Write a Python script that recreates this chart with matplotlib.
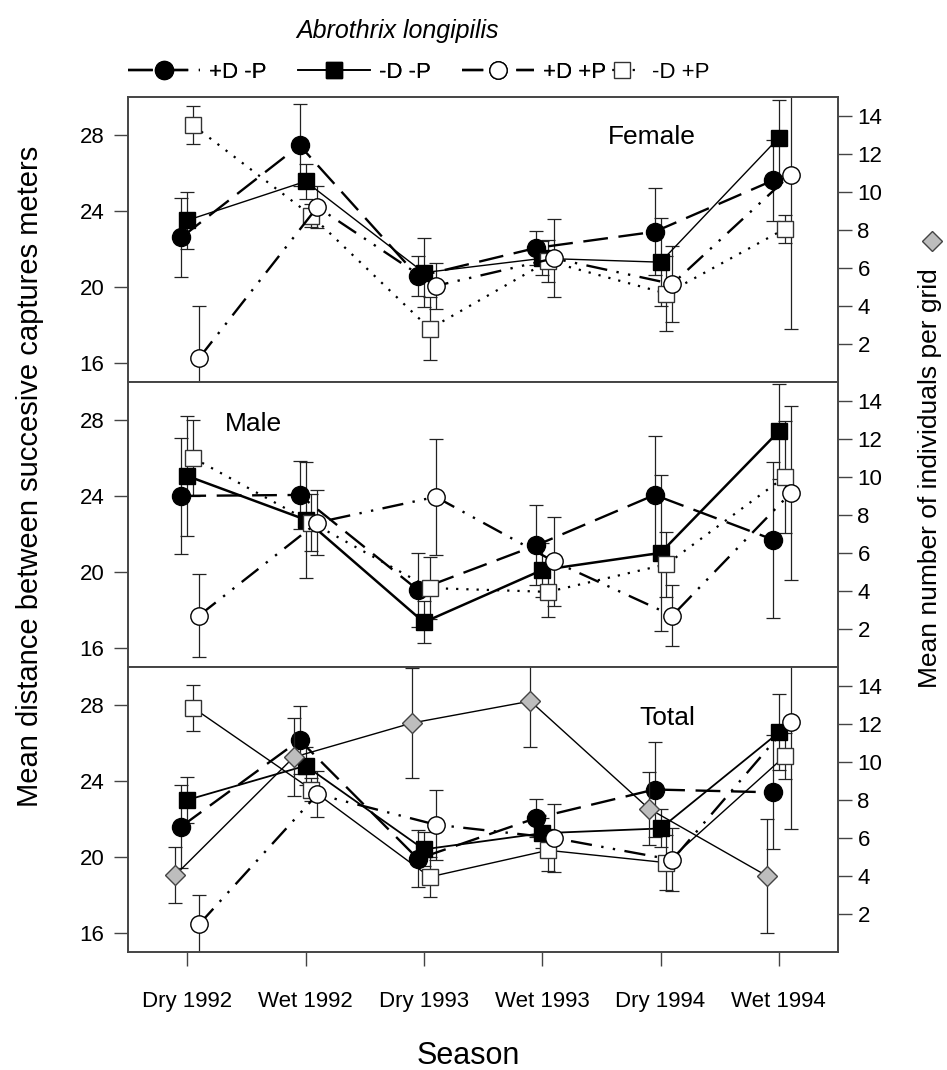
import numpy as np
import matplotlib
matplotlib.use("Agg")
import matplotlib.pyplot as plt
from matplotlib.lines import Line2D

plt.rcParams['font.family'] = ['Liberation Sans', 'DejaVu Sans']

# ============================================
# Data: mean distance (m) +- error, per treatment and season
seasons = ['Dry 1992', 'Wet 1992', 'Dry 1993', 'Wet 1993', 'Dry 1994', 'Wet 1994']
panel_names = ['Female', 'Male', 'Total']

# Female
f_pd_mp = [22.6, 27.45, 20.55, 22.05, 22.9, 25.6]
f_pd_mp_err = [2.1, 2.15, 1.05, 0.9, 2.3, 2.15]
f_md_mp = [23.5, 25.55, 20.75, 21.5, 21.3, 27.85]
f_md_mp_err = [1.5, 0.9, 1.8, 0.9, 2.3, 2.0]
f_pd_pp = [16.25, 24.2, 20.05, 21.5, 20.15, 25.9]
f_pd_pp_err = [2.75, 1.1, 1.2, 2.05, 2.0, 8.1]
f_md_pp = [28.5, 23.75, 17.8, 21.35, 19.65, 23.05]
f_md_pp_err = [1.0, 0.6, 1.65, 1.1, 1.95, 0.75]

# Male
m_pd_mp = [24.0, 24.05, 19.05, 21.4, 24.05, 21.7]
m_pd_mp_err = [3.05, 1.8, 1.95, 2.1, 3.1, 4.1]
m_md_mp = [25.05, 22.75, 17.35, 20.1, 21.0, 27.4]
m_md_mp_err = [3.15, 3.05, 1.1, 1.4, 4.1, 2.5]
m_pd_pp = [17.7, 22.6, 23.95, 20.55, 17.7, 24.15]
m_pd_pp_err = [2.2, 1.7, 3.05, 2.35, 1.6, 4.6]
m_md_pp = [26.0, 22.6, 19.15, 18.95, 20.4, 25.0]
m_md_pp_err = [2.0, 1.5, 1.65, 1.3, 1.7, 2.95]

# Total
t_pd_mp = [21.6, 26.15, 19.9, 22.05, 23.55, 23.4]
t_pd_mp_err = [2.2, 1.8, 1.5, 1.0, 2.5, 3.0]
t_md_mp = [23.0, 24.8, 20.4, 21.25, 21.5, 26.55]
t_md_mp_err = [1.2, 1.0, 0.9, 0.8, 1.0, 2.0]
t_pd_pp = [16.45, 23.3, 21.7, 21.0, 19.85, 27.1]
t_pd_pp_err = [1.55, 1.2, 1.85, 1.8, 1.65, 5.65]
t_md_pp = [27.85, 23.55, 18.95, 20.35, 19.7, 25.3]
t_md_pp_err = [1.2, 0.6, 1.05, 1.1, 1.45, 1.2]

# Total: mean number of individuals per grid (right axis)
t_density = [4.05, 10.25, 12.05, 13.2, 7.55, 4.0]
t_density_err = [1.45, 2.05, 2.9, 2.4, 1.9, 3.0]

# ============================================
# Styles
DASH = (0, (10.5, 4.5))
DASHDOTDOT = (0, (9, 4, 1, 4, 1, 4))
DOTTED = (0, (1, 3.6))

styles = {
    '+D -P': dict(marker='o', mfc='black', mec='black', ms=13, ls=DASH, lw=1.7, dx=-0.05),
    '-D -P': dict(marker='s', mfc='black', mec='black', ms=11.5, ls='-', lw=1.2, dx=0.0),
    '-D +P': dict(marker='s', mfc='white', mec='#333333', ms=11.5, ls=DOTTED, lw=1.6, dx=0.05),
    '+D +P': dict(marker='o', mfc='white', mec='black', ms=12.5, ls=DASHDOTDOT, lw=1.7, dx=0.1),
}
# solid -D -P line is drawn heavier in the Male panel
solid_lw = [1.0, 1.8, 1.3]

panels = [
    {'+D -P': (f_pd_mp, f_pd_mp_err), '-D -P': (f_md_mp, f_md_mp_err),
     '-D +P': (f_md_pp, f_md_pp_err), '+D +P': (f_pd_pp, f_pd_pp_err)},
    {'+D -P': (m_pd_mp, m_pd_mp_err), '-D -P': (m_md_mp, m_md_mp_err),
     '-D +P': (m_md_pp, m_md_pp_err), '+D +P': (m_pd_pp, m_pd_pp_err)},
    {'+D -P': (t_pd_mp, t_pd_mp_err), '-D -P': (t_md_mp, t_md_mp_err),
     '-D +P': (t_md_pp, t_md_pp_err), '+D +P': (t_pd_pp, t_pd_pp_err)},
]
label_pos = [(0.738, 0.86), (0.177, 0.853), (0.759, 0.821)]

frame_col = '#444444'
err_col = '#222222'

fig = plt.figure(figsize=(9.47, 10.70), dpi=100)
x = np.arange(len(seasons))

bottoms = [0.6431, 0.3767, 0.1103]
for i, data in enumerate(panels):
    ax = fig.add_axes([0.1352, bottoms[i], 0.7497, 0.2664])
    for name, (vals, errs) in data.items():
        st = styles[name]
        ls = st['ls']
        lw = st['lw']
        if name == '-D -P':
            lw = solid_lw[i]
        if i == 2 and name == '-D +P':
            ls, lw = '-', 1.0
        ax.errorbar(x + st['dx'], vals, yerr=errs, fmt='none', ecolor=err_col,
                    elinewidth=0.9, capsize=5, capthick=0.9, zorder=2)
        ax.plot(x + st['dx'], vals, color='black', ls=ls, lw=lw, marker=st['marker'],
                ms=st['ms'], mfc=st['mfc'], mec=st['mec'], mew=1.0, zorder=3)
    ax.set_xlim(-0.5, 5.5)
    ax.set_ylim(15, 30)
    ax.set_yticks([16, 20, 24, 28])
    ax.tick_params(axis='y', direction='out', length=10, width=1, color=frame_col,
                   labelsize=16, pad=7)
    for sp in ax.spines.values():
        sp.set_color(frame_col)
        sp.set_linewidth(1.2)
    ax.text(*label_pos[i], panel_names[i], transform=ax.transAxes,
            ha='center', va='center', fontsize=19)

    ax2 = ax.twinx()
    ax2.set_ylim(0, 15)
    ax2.set_yticks([2, 4, 6, 8, 10, 12, 14])
    ax2.tick_params(axis='y', direction='out', length=10, width=1, color=frame_col,
                    labelsize=16, pad=4)
    for sp in ax2.spines.values():
        sp.set_color(frame_col)
        sp.set_linewidth(1.2)

    ax.set_xticks(x)
    if i == 2:
        ax2.errorbar(x - 0.1, t_density, yerr=t_density_err, fmt='none', ecolor=err_col,
                     elinewidth=0.9, capsize=5, capthick=0.9, zorder=2)
        ax2.plot(x - 0.1, t_density, color='black', lw=1.0, marker='D', ms=10.5,
                 mfc='#bdbdbd', mec='#444444', mew=1.0, zorder=4)
        ax.set_xticklabels(seasons)
        ax.tick_params(axis='x', direction='out', length=10, width=1, color=frame_col,
                       labelsize=16, pad=18)
    else:
        ax.tick_params(axis='x', bottom=False, labelbottom=False)

# Legend
handles = []
for name in ['+D -P', '-D -P', '+D +P', '-D +P']:
    st = styles[name]
    handles.append(Line2D([], [], color='black', ls=st['ls'], lw=st['lw'],
                          marker=st['marker'], ms=st['ms'], mfc=st['mfc'], mec=st['mec']))
leg1 = fig.legend(handles[:3], ['+D -P', '-D -P', '+D +P'], loc='center left',
                  bbox_to_anchor=(0.135, 0.932), ncol=3, frameon=False, fontsize=16,
                  handlelength=3.25, handletextpad=0.4, columnspacing=1.4,
                  borderpad=0, borderaxespad=0)
fig.add_artist(leg1)
fig.legend(handles[3:], ['-D +P'], loc='center left', bbox_to_anchor=(0.636, 0.932),
           frameon=False, fontsize=16, handlelength=1.8, handletextpad=0.45,
           borderpad=0, borderaxespad=0)

fig.text(0.42, 0.971, 'Abrothrix longipilis', style='italic', fontsize=18,
         ha='center', va='center')
fig.text(0.494, 0.013, 'Season', fontsize=22, ha='center', va='center')
fig.text(0.032, 0.555, 'Mean distance between succesive captures meters', fontsize=21,
         rotation=90, ha='center', va='center')
fig.text(0.982, 0.553, 'Mean number of individuals per grid', fontsize=19,
         rotation=90, ha='center', va='center')
fig.add_artist(Line2D([0.984], [0.775], transform=fig.transFigure, marker='D', ms=10,
                      mfc='#bdbdbd', mec='#444444', ls='none'))

fig.savefig('out.png', dpi=100)
